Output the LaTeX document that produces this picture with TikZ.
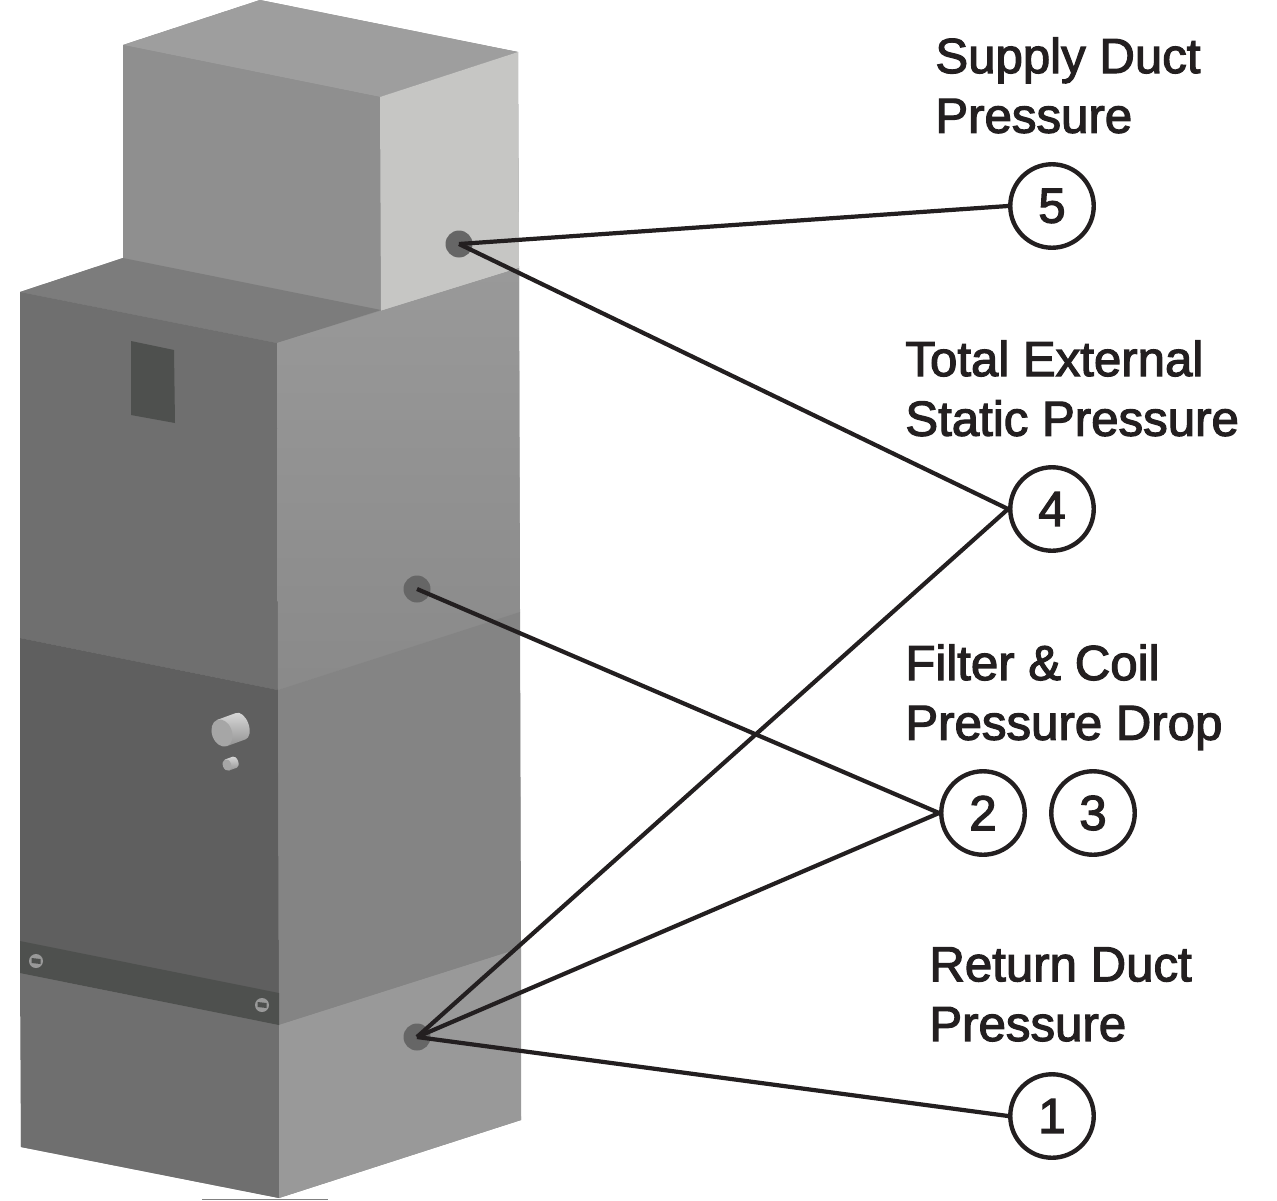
\documentclass[tikz,border=0pt]{standalone}
\usepackage{fontspec}
\setmainfont{Liberation Sans}[FakeBold=2.4]
\definecolor{inkline}{HTML}{231F20}
\definecolor{portgray}{HTML}{666666}
\definecolor{plategray}{HTML}{4E504E}
\definecolor{lidtop}{HTML}{9E9E9E}
\definecolor{lidfront}{HTML}{8F8F8F}
\definecolor{lidside}{HTML}{C6C6C4}
\definecolor{shelf}{HTML}{7C7C7C}
\definecolor{bodyfront}{HTML}{6F6F6F}
\definecolor{bodyside}{HTML}{999999}
\definecolor{midfront}{HTML}{5F5F5F}
\definecolor{midside}{HTML}{848484}
\tikzset{
x=0.02cm, y=-0.02cm,
port/.style={circle, fill=portgray, inner sep=0, minimum size=0.54cm},
number/.style={circle, draw=inkline, fill=white, line width=2.5pt, inner sep=0, minimum size=1.67cm, font=\fontsize{28}{28}\selectfont, text=inkline},
caption/.style={anchor=north west, align=left, inner sep=0, font=\fontsize{28}{34}\selectfont, text=inkline},
lead/.style={draw=inkline, line width=2.4pt},
screw/.pic={
  \fill[bodyside] (0,0) circle [radius=7];
  \fill[plategray] (-4.5,-3) -- (4.5,-2) -- (4.5,3) -- (-4.5,2) -- cycle;
  },
knob/.pic={
  \shade[top color=gray!30, bottom color=gray!85] (0,-14) -- (20,-14) arc [start angle=90, end angle=-90, x radius=8, y radius=-14] -- (0,14) -- cycle;
  \fill[gray!70] (0,0) ellipse [x radius=10, y radius=14];
  }
}
\begin{document}
\begin{tikzpicture}
  \useasboundingbox (0,0) rectangle (1277,1200);
  % upper box
  \fill[lidfront] (123,45) -- (260,0) -- (518,52) -- (519,268) -- (521,1120) -- (279,1198) -- (21,1147) -- (20,292) -- (123,258) -- cycle;
  \fill[lidtop] (123,45) -- (260,0) -- (518,52) -- (380,97) -- cycle;
  \fill[lidfront] (123,45) -- (380,97) -- (381,310) -- (123,258) -- cycle;
  \fill[lidside] (380,97) -- (518,52) -- (519,268) -- (381,311) -- cycle;
  % main cabinet
  \fill[shelf] (20,292) -- (123,258) -- (381,310) -- (277,343) -- cycle;
  \fill[bodyfront] (20,292) -- (277,343) -- (278,690) -- (20,638) -- cycle;
  \shade[top color=bodyside, bottom color=bodyside!90!black] (277,343) -- (519,268) -- (520,612) -- (278,690) -- cycle;
  \fill[midfront] (20,638) -- (278,690) -- (279,1025) -- (20,973) -- cycle;
  \fill[midside] (278,690) -- (520,612) -- (521,948) -- (279,1025) -- cycle;
  \fill[bodyfront] (20,973) -- (279,1025) -- (279,1198) -- (21,1147) -- cycle;
  \fill[bodyside] (279,1025) -- (521,948) -- (521,1120) -- (279,1198) -- cycle;
  \fill[black!50] (202,1198.5) rectangle (328,1200);
  % plates
  \fill[plategray] (131,341) -- (174,350) -- (175,423) -- (131,415) -- cycle;
  \fill[plategray] (20,941) -- (279,993) -- (279,1025) -- (20,973) -- cycle;
  \pic at (36,961) {screw};
  \pic at (262,1005) {screw};
  \pic[rotate=20] at (222,733) {knob};
  \pic[rotate=20, scale=0.42] at (227,765) {knob};
  % ports and numbers
  \node[port] (port5) at (459,244) {};
  \node[port] (port2) at (417,589) {};
  \node[port] (port1) at (417,1037) {};
  \node[number] (num5) at (1052,206) {5};
  \node[number] (num4) at (1052,509) {4};
  \node[number] (num2) at (983,813) {2};
  \node[number] (num3) at (1093,813) {3};
  \node[number] (num1) at (1052,1116) {1};
  \draw[lead] (port5.center) -- (num5.west);
  \draw[lead] (port5.center) -- (num4.west);
  \draw[lead] (port1.center) -- (num4.west);
  \draw[lead] (port2.center) -- (num2.west);
  \draw[lead] (port1.center) -- (num2.west);
  \draw[lead] (port1.center) -- (num1.west);
  \node[caption] (label5) at (935,37) {Supply Duct\\Pressure};
  \node[caption] (label4) at (905,340) {Total External\\Static Pressure};
  \node[caption] (label2) at (905,644) {Filter \& Coil\\Pressure Drop};
  \node[caption] (label1) at (929,947) {Return Duct\\Pressure};
\end{tikzpicture}
\end{document}
